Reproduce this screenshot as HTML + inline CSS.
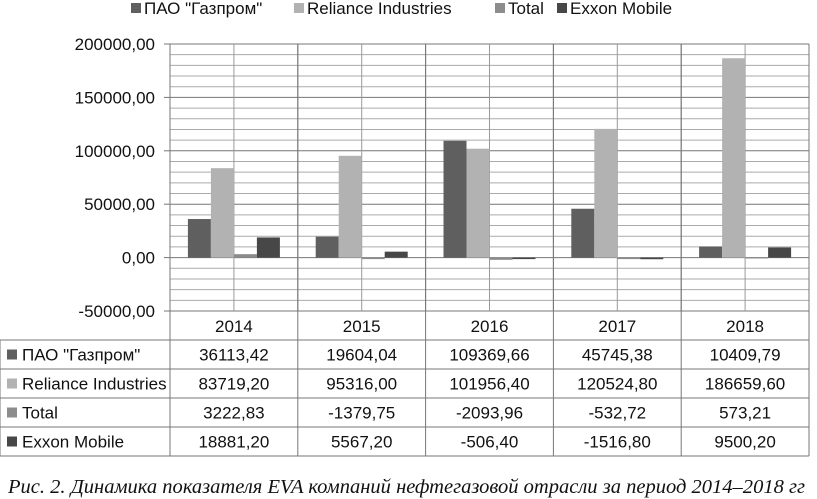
<!DOCTYPE html>
<html><head><meta charset="utf-8">
<style>
body{margin:0;background:#fff;width:817px;height:499px;overflow:hidden}
svg{display:block}
text{font-family:"Liberation Sans",sans-serif;fill:#111}
</style></head>
<body>
<svg id="chart" width="817" height="499" viewBox="0 0 817 499" xmlns="http://www.w3.org/2000/svg"></svg>
<script>
const categories = ["2014","2015","2016","2017","2018"];
const seriesNames = ["ПАО \"Газпром\"","Reliance Industries","Total","Exxon Mobile"];
const gazprom = [36113.42,19604.04,109369.66,45745.38,10409.79];
const reliance = [83719.20,95316.00,101956.40,120524.80,186659.60];
const total = [3222.83,-1379.75,-2093.96,-532.72,573.21];
const exxon = [18881.20,5567.20,-506.40,-1516.80,9500.20];
const gazpromLabels = ["36113,42","19604,04","109369,66","45745,38","10409,79"];
const relianceLabels = ["83719,20","95316,00","101956,40","120524,80","186659,60"];
const totalLabels = ["3222,83","-1379,75","-2093,96","-532,72","573,21"];
const exxonLabels = ["18881,20","5567,20","-506,40","-1516,80","9500,20"];
const yTicks = [200000,150000,100000,50000,0,-50000];
const yTickLabels = ["200000,00","150000,00","100000,00","50000,00","0,00","-50000,00"];

const colors = ["#5f5f5f","#b2b2b2","#8c8c8c","#474747"];
const series = [gazprom,reliance,total,exxon];
const seriesLabels = [gazpromLabels,relianceLabels,totalLabels,exxonLabels];
const svg = document.getElementById('chart');
const NS = "http://www.w3.org/2000/svg";
const L=170,R=809,T=44,B=311;
const yMin=-50000,yMax=200000;
const y = v => B - (v - yMin)/(yMax-yMin)*(B-T);
const cw = (R-L)/categories.length;
const x = i => L + i*cw;
function mk(tag, attrs, parent){const e=document.createElementNS(NS,tag);for(const k in attrs)e.setAttribute(k,attrs[k]);(parent||svg).appendChild(e);return e;}

for(let v=yMin; v<=yMax; v+=10000){
  const l=mk('line',{x1:L,x2:R,y1:y(v),y2:y(v),stroke: v%50000===0?'#777':'#aaa','stroke-width':1});
  
  
}
for(let i=0;i<=categories.length*2;i++){
  const xx=L+i*cw/2;
  const l=mk('line',{x1:xx,x2:xx,y1:T,y2:B,stroke:i%2===0?'#777':'#999','stroke-width':1});
  
  
}
yTicks.forEach((v,i)=>{
  mk('line',{x1:L-6,x2:L,y1:y(v),y2:y(v),stroke:'#777'});
  const t=mk('text',{x:L-15,y:y(v)+6,'text-anchor':'end','font-size':17});
  t.textContent=yTickLabels[i];
  
  
});
const bw=23, groupOff=(cw-4*bw)/2;
series.forEach((s,si)=>{
  s.forEach((v,i)=>{
    const bx=x(i)+groupOff+si*bw;
    const y0=y(0), yv=y(v);
    const r=mk('rect',{x:bx,y:Math.min(y0,yv),width:bw,height:Math.max(1.5,Math.abs(yv-y0)),fill:colors[si]});
    
    
  });
});
const legX=[131,294,495,557];
seriesNames.forEach((n,i)=>{
  mk('rect',{x:legX[i],y:3,width:10,height:10,fill:colors[i]});
  const t=mk('text',{x:legX[i]+13,y:14,'font-size':17});
  t.textContent=n;
  
  
});
const rows=[311,340,369,398,427,456];
for(let r=1;r<rows.length;r++) mk('line',{x1:0,x2:R,y1:rows[r],y2:rows[r],stroke:'#777'});
mk('line',{x1:0,x2:0,y1:rows[1],y2:rows[5],stroke:'#777'});
for(let i=0;i<=categories.length;i++) mk('line',{x1:x(i),x2:x(i),y1:T,y2:rows[5],stroke:'#777'});
categories.forEach((c,i)=>{
  const t=mk('text',{x:x(i)+cw/2,y:332,'text-anchor':'middle','font-size':17});
  t.textContent=c;
  
  
});
seriesNames.forEach((n,si)=>{
  const cy=(rows[si+1]+rows[si+2])/2;
  mk('rect',{x:7,y:cy-5,width:10,height:10,fill:colors[si]});
  const t=mk('text',{x:22,y:cy+6,'font-size':17});
  t.textContent=n;
  
  
  seriesLabels[si].forEach((lab,i)=>{
    const c=mk('text',{x:x(i)+cw/2,y:cy+6,'text-anchor':'middle','font-size':17});
    c.textContent=lab;
    
    
  });
});
const cap=mk('text',{x:8,y:493,'font-size':20,'font-style':'italic',textLength:797,lengthAdjust:'spacingAndGlyphs',style:'font-family:"Liberation Serif",serif'});
cap.textContent="Рис. 2. Динамика показателя EVA компаний нефтегазовой отрасли за период 2014–2018 гг";


</script>
</body></html>
